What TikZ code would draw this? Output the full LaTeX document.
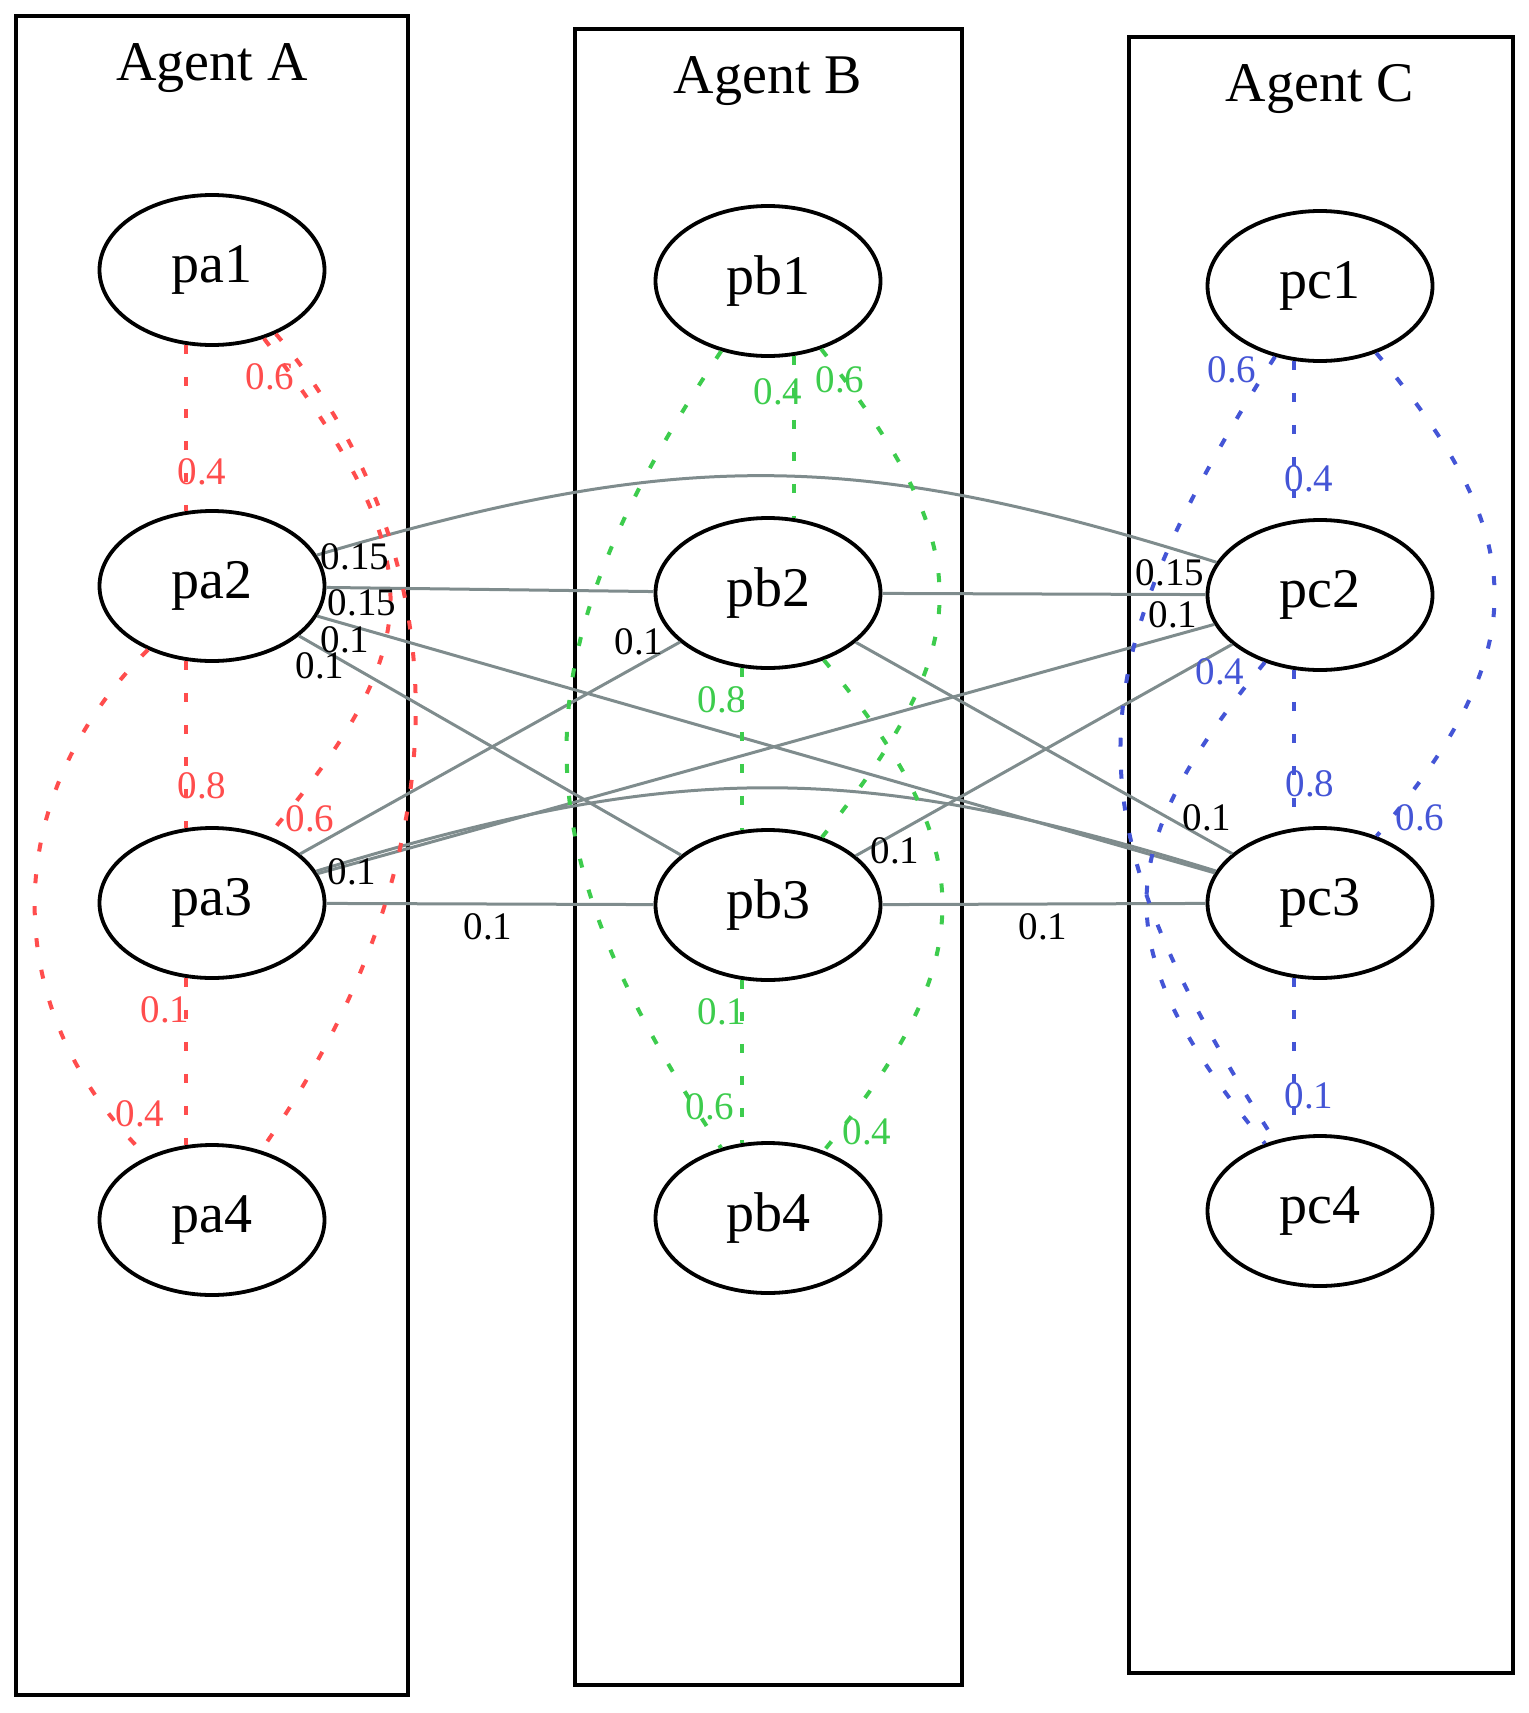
\documentclass[tikz,border=0pt]{standalone}
\usepackage{fontspec}
\setmainfont{Liberation Serif}
\usepackage{xcolor}
\usetikzlibrary{shapes.geometric}

\definecolor{agentred}{RGB}{255,77,77}
\definecolor{agentgreen}{RGB}{61,204,77}
\definecolor{agentblue}{RGB}{68,85,214}
\definecolor{linkgray}{RGB}{127,140,141}

\begin{document}
\begin{tikzpicture}[x=0.5pt, y=-0.5pt,
	    cluster/.style={line width=1.9pt},
	    agentname/.style={anchor=base, font=\fontsize{28}{34}\selectfont},
	    pnode/.style={ellipse, draw, line width=1.9pt, minimum width=112.5pt,
	      minimum height=75pt, inner sep=0pt, font=\fontsize{28}{34}\selectfont},
	    crossedge/.style={line width=1.5pt, linkgray},
	    intra/.style={line width=2pt, dash pattern=on 4.5pt off 11.5pt},
	    prob/.style={inner sep=0pt, font=\fontsize{19.5}{23}\selectfont}
	  ]
	  \useasboundingbox (0,0) rectangle (1529,1713);
	 
	  % agent boxes
	  \draw[cluster] (16,16) rectangle (408,1695);
	  \draw[cluster] (575,29) rectangle (962,1685);
	  \draw[cluster] (1129,37) rectangle (1513,1673);
	  \node[agentname] (nameA) at (212,80) {Agent A};
	  \node[agentname] (nameB) at (768,93) {Agent B};
	  \node[agentname] (nameC) at (1320,101) {Agent C};
	 
	  % states
	  \node[pnode] (pa1) at (212,270) {pa1};
	  \node[pnode] (pa2) at (212,586) {pa2};
	  \node[pnode] (pa3) at (212,903) {pa3};
	  \node[pnode] (pa4) at (212,1220) {pa4};
	  \node[pnode] (pb1) at (768,281) {pb1};
	  \node[pnode] (pb2) at (768,593) {pb2};
	  \node[pnode] (pb3) at (768,905) {pb3};
	  \node[pnode] (pb4) at (768,1218) {pb4};
	  \node[pnode] (pc1) at (1320,286) {pc1};
	  \node[pnode] (pc2) at (1320,595) {pc2};
	  \node[pnode] (pc3) at (1320,903) {pc3};
	  \node[pnode] (pc4) at (1320,1211) {pc4};
	 
	  % links between agents
	  \draw[crossedge] (pa2) .. controls (680,448) and (855,448) .. (pc2);
	  \draw[crossedge] (pa3) .. controls (680,760) and (855,760) .. (pc3);
	  \draw[crossedge] (pa2) -- (pb2);
	  \draw[crossedge] (pb2) -- (pc2);
	  \draw[crossedge] (pa2) -- (pb3);
	  \draw[crossedge] (pa2) -- (pc3);
	  \draw[crossedge] (pa3) -- (pb2);
	  \draw[crossedge] (pa3) -- (pc2);
	  \draw[crossedge] (pa3) -- (pb3);
	  \draw[crossedge] (pb3) -- (pc3);
	  \draw[crossedge] (pb2) -- (pc3);
	  \draw[crossedge] (pb3) -- (pc2);
	 
	  % agent A
	  \draw[intra, agentred] (pa1.-109) -- (pa2.109);
	  \draw[intra, agentred] (pa2.-109) -- (pa3.109);
	  \draw[intra, agentred] (pa3.-109) -- (pa4.109);
	  \draw[intra, agentred] (pa2) .. controls (-3,800) and (-3,1010) .. (pa4);
	  \draw[intra, agentred] (pa1) .. controls (432,560) and (432,640) .. (pa3);
	  \draw[intra, agentred] (pa1.-45) .. controls (474,570) and (455,875) .. (pa4);
	 
	  % agent B
	  \draw[intra, agentgreen] (pb1.-71) -- (pb2.71);
	  \draw[intra, agentgreen] (pb2.-109) -- (pb3.109);
	  \draw[intra, agentgreen] (pb3.-109) -- (pb4.109);
	  \draw[intra, agentgreen] (pb1) .. controls (515,660) and (515,840) .. (pb4);
	  \draw[intra, agentgreen] (pb1) .. controls (979,551) and (979,640) .. (pb3);
	  \draw[intra, agentgreen] (pb2) .. controls (982,850) and (982,960) .. (pb4);
	 
	  % agent C
	  \draw[intra, agentblue] (pc1.-109) -- (pc2.109);
	  \draw[intra, agentblue] (pc2.-109) -- (pc3.109);
	  \draw[intra, agentblue] (pc3.-109) -- (pc4.109);
	  \draw[intra, agentblue] (pc1) .. controls (1069,680) and (1069,820) .. (pc4);
	  \draw[intra, agentblue] (pc2) .. controls (1107,855) and (1107,950) .. (pc4);
	  \draw[intra, agentblue] (pc1) .. controls (1534,541) and (1534,650) .. (pc3);
	 
	  % probabilities
	  \foreach \n/\x/\y/\p in {1/270/377/0.6, 2/202/472/0.4, 3/202/786/0.8,
	      4/310/819/0.6, 5/165/1010/0.1, 6/140/1114/0.4}
	    \node[prob, agentred] (qa\n) at (\x,\y) {\p};
	  \foreach \n/\x/\y/\p in {1/778/392/0.4, 2/840/380/0.6, 3/722/700/0.8,
	      4/722/1012/0.1, 5/710/1107/0.6, 6/867/1132/0.4}
	    \node[prob, agentgreen] (qb\n) at (\x,\y) {\p};
	  \foreach \n/\x/\y/\p in {1/1232/370/0.6, 2/1309/479/0.4, 3/1220/672/0.4,
	      4/1310/784/0.8, 5/1420/818/0.6, 6/1309/1096/0.1}
	    \node[prob, agentblue] (qc\n) at (\x,\y) {\p};
	  \foreach \n/\x/\y/\p in {1/355/557/0.15, 2/362/603/0.15, 3/345/640/0.1,
	      4/320/666/0.1, 5/639/642/0.1, 6/352/872/0.1, 7/488/927/0.1,
	      8/895/851/0.1, 9/1043/927/0.1, 10/1170/573/0.15, 11/1173/615/0.1,
	      12/1207/818/0.1}
	    \node[prob] (qx\n) at (\x,\y) {\p};
	\end{tikzpicture}
\end{document}
